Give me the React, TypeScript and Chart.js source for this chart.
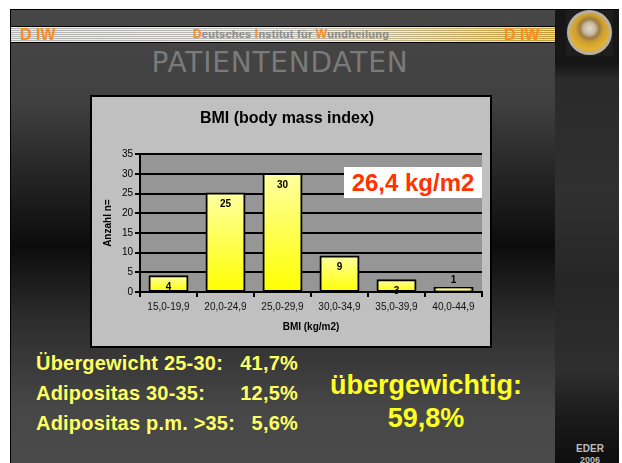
import React, { useEffect, useRef } from "react";
import { Chart, registerables } from "chart.js";

Chart.register(...registerables);

const categories = ["15,0-19,9", "20,0-24,9", "25,0-29,9", "30,0-34,9", "35,0-39,9", "40,0-44,9"];
const counts = [4, 25, 30, 9, 3, 1];
const yMin = 0;
const yMax = 35;
const yStep = 5;
const chartTitle = "BMI (body mass index)";
const xTitle = "BMI (kg/m2)";
const yTitle = "Anzahl n=";
const meanLabel = "26,4 kg/m2";
const statLabels = ["Übergewicht 25-30:", "Adipositas 30-35:", "Adipositas p.m. >35:"];
const statValues = ["41,7%", "12,5%", "5,6%"];
const summaryLines = ["übergewichtig:", "59,8%"];

const FONT = "'Liberation Sans', Arial, sans-serif";

const plotBg = {
  id: "plotBg",
  beforeDraw(chart: any) {
    const { ctx, chartArea } = chart;
    if (!chartArea) return;
    ctx.save();
    ctx.fillStyle = "#969696";
    ctx.fillRect(chartArea.left, chartArea.top, chartArea.right - chartArea.left, chartArea.bottom - chartArea.top);
    ctx.restore();
  },
};

const valueLabels = {
  id: "valueLabels",
  afterDatasetsDraw(chart: any) {
    const { ctx } = chart;
    const meta = chart.getDatasetMeta(0);
    ctx.save();
    ctx.font = `bold 10px ${FONT}`;
    ctx.fillStyle = "#000";
    ctx.textAlign = "center";
    ctx.textBaseline = "middle";
    meta.data.forEach((el: any, i: number) => {
      const h = el.base - el.y;
      const y = h >= 8 ? el.y + 11 : el.y - 8;
      ctx.fillText(String(counts[i]), el.x, y);
    });
    ctx.restore();
  },
};

function BarChart() {
  const ref = useRef<HTMLCanvasElement | null>(null);
  useEffect(() => {
    if (!ref.current) return;
    const chart = new Chart(ref.current, {
      type: "bar",
      data: {
        labels: categories,
        datasets: [
          {
            data: counts,
            backgroundColor: (c: any) => {
              const ch = c.chart;
              if (!ch.chartArea || c.type !== "data") return "#ffff66";
              const top = ch.scales.y.getPixelForValue(c.raw);
              const base = ch.scales.y.getPixelForValue(0);
              const g = ch.ctx.createLinearGradient(0, top, 0, base);
              g.addColorStop(0, "#ffffa0");
              g.addColorStop(1, "#ffff00");
              return g;
            },
            borderColor: "#000",
            borderWidth: 2,
            borderSkipped: false,
            inflateAmount: 1,
            categoryPercentage: 1,
            barPercentage: 0.667,
          } as any,
        ],
      },
      options: {
        animation: false,
        responsive: false,
        maintainAspectRatio: false,
        devicePixelRatio: 1,
        layout: { padding: { left: 0, right: 8, top: 0, bottom: 0 } },
        plugins: {
          legend: { display: false },
          tooltip: { enabled: false },
          title: {
            display: true,
            text: chartTitle,
            color: "#000",
            font: { family: FONT, size: 16, weight: "bold" },
            padding: { top: 12, bottom: 26 },
          },
        },
        scales: {
          x: {
            grid: { drawOnChartArea: false, drawTicks: true, tickLength: 5, color: "#000", lineWidth: 2 },
            border: { color: "#000", width: 2 },
            ticks: { color: "#111", font: { family: FONT, size: 10 }, padding: 4, maxRotation: 0, autoSkip: false },
            title: {
              display: true,
              text: xTitle,
              color: "#000",
              font: { family: FONT, size: 10, weight: "bold" },
              padding: { top: 0, bottom: 13 },
            },
            afterFit: (s: any) => {
              s.height = 54;
            },
          },
          y: {
            min: yMin,
            max: yMax,
            ticks: { stepSize: yStep, color: "#000", font: { family: FONT, size: 10 }, padding: 2 },
            grid: { color: "#000", lineWidth: 2, tickLength: 5, drawTicks: true },
            border: { color: "#000", width: 2 },
            title: {
              display: true,
              text: yTitle,
              color: "#000",
              font: { family: FONT, size: 10, weight: "bold" },
              padding: { top: 10, bottom: 0 },
            },
            afterFit: (s: any) => {
              s.width = 48;
            },
          },
        },
      } as any,
      plugins: [plotBg, valueLabels],
    });
    return () => chart.destroy();
  }, []);
  return <canvas ref={ref} width={398} height={249} style={{ width: 398, height: 249, display: "block" }} />;
}

const abs = (l: number, t: number, w?: number, h?: number): React.CSSProperties => ({
  position: "absolute",
  left: l,
  top: t,
  ...(w !== undefined ? { width: w } : {}),
  ...(h !== undefined ? { height: h } : {}),
});

const orange = "#ff8c1a";

export default function App() {
  return (
    <div style={{ position: "absolute", left: 0, top: 0, width: 622, height: 463, background: "#fff", overflow: "hidden", fontFamily: FONT }}>
      {/* slide background */}
      <div
        style={{
          ...abs(10, 9, 609, 454),
          background: "linear-gradient(to bottom, #474747 0%, #404040 20%, #1c1c1c 42%, #0c0c0c 52%, #2c2c2c 68%, #474747 88%, #4a4a4a 100%)",
          borderLeft: "1px solid #000",
          borderTop: "1px solid #000",
          boxSizing: "border-box",
        }}
      />
      {/* right strip */}
      <div
        style={{
          ...abs(555, 10, 64, 453),
          background: "linear-gradient(to bottom, #161616 0%, #161616 12%, #2a2a2a 15%, #303030 40%, #262626 60%, #2e2e2e 80%, #1a1a1a 90%, #0e0e0e 100%)",
        }}
      />
      <div style={{ ...abs(566, 10, 47, 46), background: "#1e1e1e" }} />
      {/* logo */}
      <div
        style={{
          ...abs(567, 10, 45, 45),
          borderRadius: "50%",
          boxSizing: "border-box",
          border: "3px solid #b8b0a0",
          background: "radial-gradient(circle at 50% 40%, #e0dacb 0%, #c6b89c 20%, #9a7a40 32%, #d0a030 46%, #e2b232 70%, #c89018 100%)",
        }}
      />
      <div style={{ ...abs(619, 9, 3, 454), background: "#fff" }} />

      {/* header band */}
      <div style={{ ...abs(10, 26, 546, 17), background: "#000" }} />
      <div
        style={{
          ...abs(11, 27, 544, 15),
          background:
            "repeating-linear-gradient(to bottom, rgba(255,255,255,0.55) 0px, rgba(255,255,255,0.55) 1px, rgba(110,110,110,0.35) 1px, rgba(110,110,110,0.35) 2px), linear-gradient(to right, #d8d8d8 0%, #e4e2da 50%, #ecd898 72%, #f2c440 88%, #f0b418 100%)",
        }}
      />
      <div style={{ ...abs(20, 26, 60, 17), lineHeight: "17px", fontSize: 16, fontWeight: "bold", color: orange, whiteSpace: "pre" }}>D IW</div>
      <div style={{ ...abs(504, 26, 50, 17), lineHeight: "17px", fontSize: 16, fontWeight: "bold", color: orange, whiteSpace: "pre" }}>D IW</div>
      <div
        style={{
          ...abs(140, 26, 302, 17),
          lineHeight: "17px",
          fontSize: 11,
          fontWeight: "bold",
          color: "#8c8c8c",
          textAlign: "center",
          whiteSpace: "pre",
          letterSpacing: "0.25px",
        }}
      >
        <span style={{ color: orange, fontSize: 12 }}>D</span>eutsches <span style={{ color: orange, fontSize: 12 }}>I</span>nstitut für{" "}
        <span style={{ color: orange, fontSize: 12 }}>W</span>undheilung
      </div>

      {/* slide title */}
      <div
        style={{
          ...abs(80, 44, 400, 38),
          lineHeight: "38px",
          textAlign: "center",
          fontFamily: "'DejaVu Sans', sans-serif",
          fontSize: 28,
          letterSpacing: "0.8px",
          color: "#7a7a7a",
        }}
      >
        PATIENTENDATEN
      </div>

      {/* chart panel */}
      <div style={{ ...abs(90, 95, 402, 253), boxSizing: "border-box", border: "2px solid #000", background: "#c0c0c0" }}>
        <BarChart />
      </div>
      <div
        style={{
          ...abs(344, 167, 138, 31),
          background: "#fff",
          color: "#ff3300",
          fontWeight: "bold",
          fontSize: 24,
          lineHeight: "31px",
          textAlign: "center",
        }}
      >
        {meanLabel}
      </div>

      {/* stats */}
      {statLabels.map((lab, i) => (
        <div
          key={lab}
          style={{
            ...abs(36, 350 + i * 30, 262, 26),
            display: "flex",
            justifyContent: "space-between",
            color: "#ffff66",
            fontWeight: "bold",
            fontSize: 20,
            lineHeight: "26px",
            whiteSpace: "pre",
            letterSpacing: "0.2px",
          }}
        >
          <span>{lab}</span>
          <span>{statValues[i]}</span>
        </div>
      ))}

      {summaryLines.map((t, i) => (
        <div
          key={t}
          style={{
            ...abs(310, 369 + i * 33, 232, 32),
            textAlign: "center",
            color: "#ffff22",
            fontWeight: "bold",
            fontSize: 27,
            lineHeight: "32px",
            whiteSpace: "pre",
          }}
        >
          {t}
        </div>
      ))}

      {/* footer */}
      <div style={{ ...abs(560, 443, 60, 12), textAlign: "center", color: "#bdbdbd", fontWeight: "bold", fontSize: 10, lineHeight: "12px" }}>EDER</div>
      <div style={{ ...abs(560, 454, 60, 12), textAlign: "center", color: "#bdbdbd", fontWeight: "bold", fontSize: 9, lineHeight: "12px" }}>2006</div>
    </div>
  );
}
